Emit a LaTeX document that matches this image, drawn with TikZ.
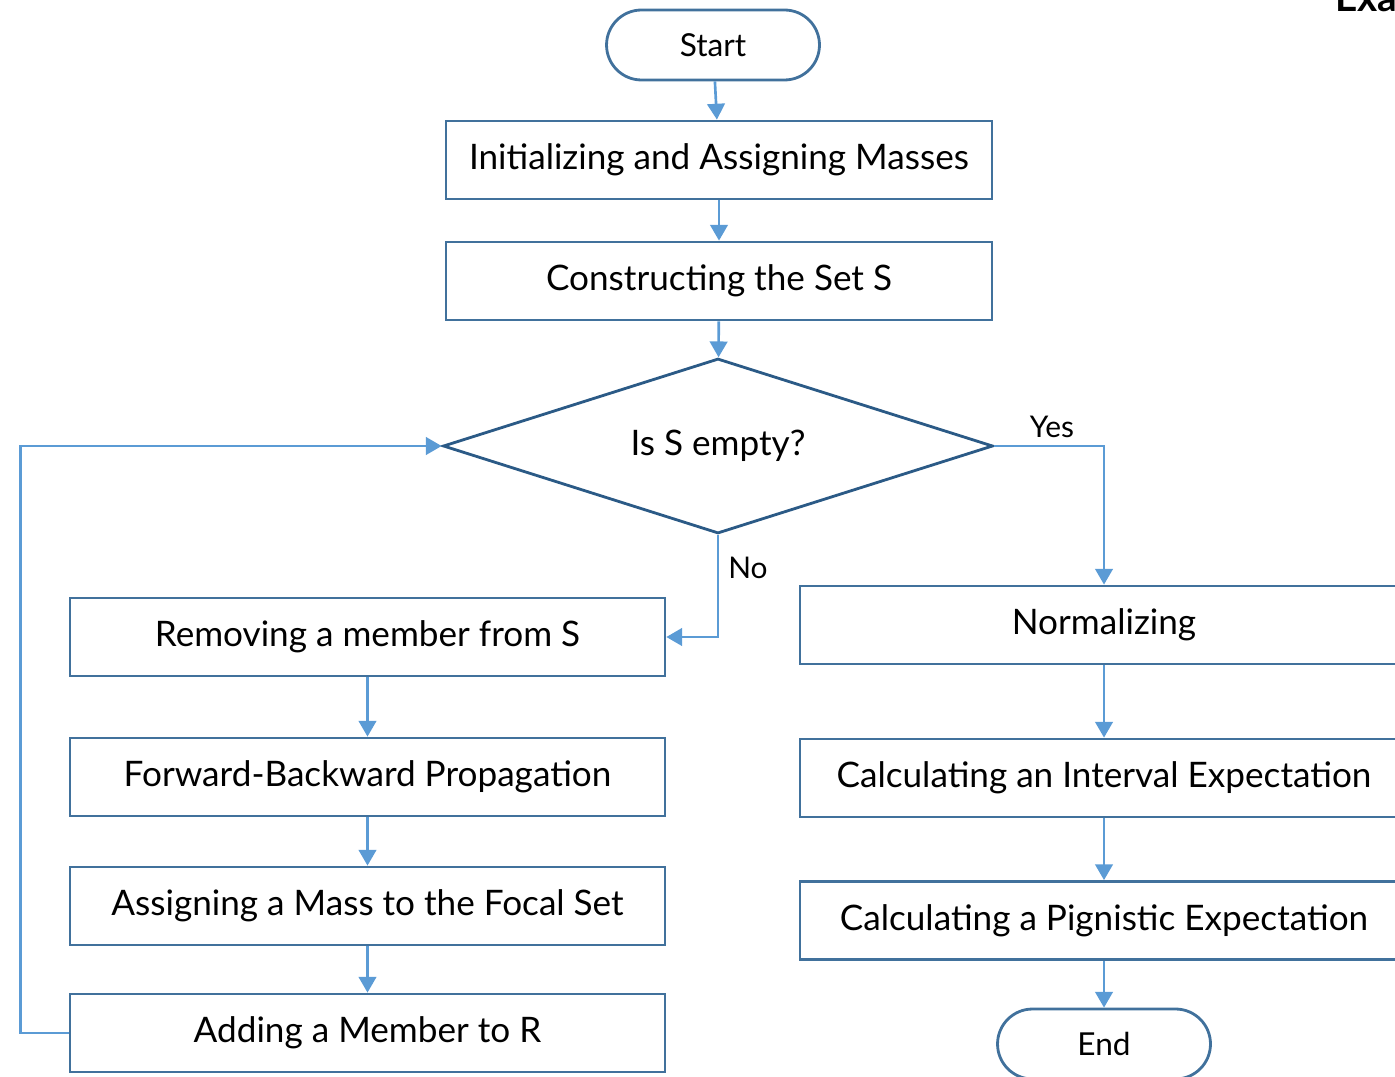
\documentclass[tikz,border=0pt]{standalone}
\usepackage{fontspec}
\setmainfont{Lato}
\usetikzlibrary{arrows.meta, shapes.geometric}
\definecolor{cbox}{HTML}{41719C}
\definecolor{cdiam}{HTML}{2B5A86}
\definecolor{carrow}{HTML}{5B9BD5}
\tikzset{
  every picture/.style={line width=1.6pt},
  stepbox/.style={draw=cbox, rectangle, minimum width=11.9cm, minimum height=1.56cm, inner sep=0pt, font=\fontsize{20}{24}\selectfont},
  terminal/.style={draw=cbox, rounded corners=0.7cm, minimum width=4.26cm, minimum height=1.4cm, inner sep=0pt, font=\fontsize{18}{22}\selectfont},
  decision/.style={draw=cdiam, diamond, aspect=3.14, minimum width=11cm, minimum height=3.5cm, inner sep=0pt, font=\fontsize{20}{24}\selectfont},
  arrow/.style={-{Triangle[length=9pt, width=10pt]}, draw=carrow, line width=1.5pt},
  branch/.style={font=\fontsize{17}{20}\selectfont, inner sep=0pt},
}
\begin{document}
\begin{tikzpicture}[x=0.02cm, y=-0.02cm]
  \useasboundingbox (0,0) rectangle (1395,1077);
  % main column
  \node[terminal] (start) at (713,45) {Start};
  \node[stepbox, minimum width=10.92cm] (init) at (719,160) {Initializing and Assigning Masses};
  \node[stepbox, minimum width=10.92cm] (build) at (719,281) {Constructing the Set S};
  \node[decision] (test) at (718,446) {Is S empty?};
  % left branch: loop over S
  \node[stepbox] (remove) at (367.5,637) {Removing a member from S};
  \node[stepbox] (propagate) at (367.5,777) {Forward-Backward Propagation};
  \node[stepbox] (assign) at (367.5,906) {Assigning a Mass to the Focal Set};
  \node[stepbox] (add) at (367.5,1033) {Adding a Member to R};
  % right branch: expectations
  \node[stepbox, minimum width=12.16cm] (norm) at (1104,625) {Normalizing};
  \node[stepbox, minimum width=12.16cm] (interval) at (1104,778) {Calculating an Interval Expectation};
  \node[stepbox, minimum width=12.16cm] (pignistic) at (1104,920.5) {Calculating a Pignistic Expectation};
  \node[terminal] (end) at (1104,1044) {End};
  \node[anchor=base west, font=\fontsize{22}{26}\selectfont\bfseries, inner sep=0pt] (corner) at (1334,12) {Exa};
  % connectors
  \draw[arrow] (start) -- (init);
  \draw[arrow] (init) -- (build);
  \draw[arrow] (build) -- (test);
  \draw[arrow] (test.south) |- (remove.east);
  \draw[arrow] (test.east) -| (norm.north);
  \draw[arrow] (remove) -- (propagate);
  \draw[arrow] (propagate) -- (assign);
  \draw[arrow] (assign) -- (add);
  \draw[arrow] (add.west) -- ++(-48,0) |- (test.west);
  \draw[arrow] (norm) -- (interval);
  \draw[arrow] (interval) -- (pignistic);
  \draw[arrow] (pignistic) -- (end);
  \node[branch] (no) at (748,568) {No};
  \node[branch] (yes) at (1052,427) {Yes};
\end{tikzpicture}
\end{document}
